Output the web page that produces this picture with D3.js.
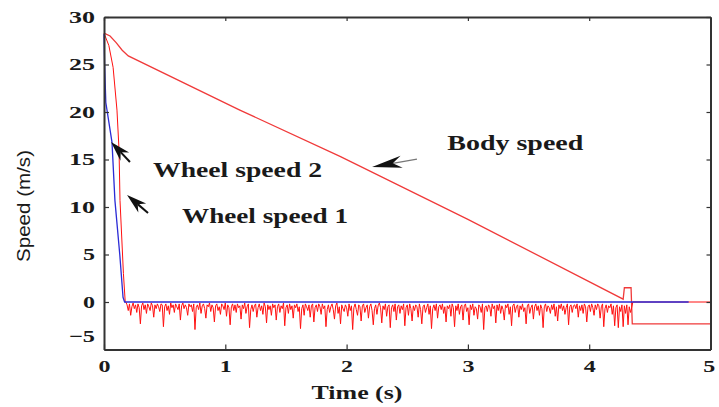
<!DOCTYPE html>
<html><head><meta charset="utf-8">
<script src="https://cdn.jsdelivr.net/npm/d3@7"></script>
<style>
html,body{margin:0;padding:0;background:#fff;}
svg{display:block;}
</style></head>
<body>
<svg id="c" width="719" height="407"></svg>
<script>
// ---- data ----
const xTicks = [0, 1, 2, 3, 4, 5];
const yTicks = [-5, 0, 5, 10, 15, 20, 25, 30];
const bodySpeed = [[0,28.3],[0.05,28.0],[0.1,27.3],[0.15,26.5],[0.2,25.9],[1.12,20.2],[1.95,15.3],[3,8.7],[4.28,0.3],[4.29,1.5],[4.345,1.5],[4.355,-2.3],[5,-2.3]];
const wheel1 = [[0,28.2],[0.005,25],[0.015,21],[0.066,16.8],[0.09,10.7],[0.13,5],[0.157,0.5],[0.17,0],[4.82,0]];
const wheel2Brake = [[0,28.3],[0.04,27],[0.075,24.7],[0.107,20.2],[0.124,16],[0.132,10.7],[0.16,3],[0.175,0],[0.18,0]];
const wheel2NoiseStart = 0.18, wheel2NoiseStep = 0.01;
const wheel2Noise = [
0,-0.3,-0.9,-0.2,-1.4,-0.5,-0.1,-0.7,-0.3,-1.1,
-0.2,-0.6,-2.3,-0.4,-0.1,-0.8,-0.3,-1.2,-0.2,-0.5,
-0.9,-0.1,-0.4,-1.6,-0.3,-0.7,-0.2,-0.5,-1.0,-0.2,
-0.3,-2.6,-0.5,-0.2,-0.9,-0.4,-1.3,-0.1,-0.6,-0.3,
-1.1,-0.2,-0.5,-0.8,-0.2,-1.9,-0.4,-0.1,-0.7,-0.3,
-0.6,-1.4,-0.2,-0.5,-0.3,-1.0,-0.2,-2.9,-0.6,-0.3,
-0.8,-0.1,-1.2,-0.4,-0.2,-0.7,-1.7,-0.3,-0.5,-0.1,
-1.0,-0.3,-0.6,-2.1,-0.4,-0.2,-0.9,-0.5,-1.3,-0.2,
-0.4,-0.8,-0.1,-1.5,-0.3,-0.6,-2.4,-0.5,-0.2,-0.9,
-0.3,-1.1,-0.2,-0.6,-0.4,-1.8,-0.3,-0.7,-0.1,-1.2,
-0.5,-0.2,-2.7,-0.8,-0.3,-1.0,-0.4,-0.2,-1.6,-0.6,
-0.2,-0.9,-0.4,-1.3,-0.1,-0.5,-2.2,-0.3,-0.8,-0.4,
-1.4,-0.2,-0.6,-0.3,-1.9,-0.5,-0.2,-1.1,-0.4,-0.7,
-0.1,-2.5,-0.6,-0.3,-1.2,-0.2,-0.8,-0.4,-1.7,-0.3,
-0.6,-0.2,-1.0,-0.5,-2.8,-0.7,-0.3,-1.4,-0.2,-0.5,
-0.9,-0.3,-1.6,-0.4,-0.2,-2.1,-0.6,-0.3,-1.0,-0.2,
-0.5,-1.3,-0.2,-0.7,-0.4,-2.6,-0.8,-0.3,-1.1,-0.5,
-0.2,-0.8,-1.8,-0.4,-0.1,-1.2,-0.5,-2.3,-0.3,-0.7,
-1.0,-0.3,-0.6,-1.5,-0.2,-0.9,-0.4,-2.9,-0.6,-0.2,
-0.8,-1.4,-0.3,-0.5,-2.0,-0.4,-0.2,-1.1,-0.6,-0.3,
-1.7,-0.5,-0.2,-0.9,-2.4,-0.7,-0.3,-1.3,-0.4,-0.1,
-0.6,-2.2,-0.4,-0.8,-0.2,-1.5,-0.5,-0.3,-2.7,-0.6,
-0.3,-1.0,-0.2,-1.9,-0.5,-0.3,-1.2,-0.4,-0.8,-0.2,
-2.5,-0.6,-0.3,-1.4,-0.2,-0.7,-2.0,-0.4,-0.9,-0.3,
-0.5,-1.6,-0.2,-0.8,-2.3,-0.5,-0.3,-1.1,-0.6,-0.2,
-1.3,-0.4,-2.8,-0.7,-0.3,-0.9,-0.2,-1.7,-0.5,-0.3,
-0.8,-0.2,-1.2,-0.5,-2.1,-0.4,-0.7,-0.3,-1.5,-0.2,
-0.6,-2.6,-0.4,-0.9,-0.2,-1.3,-0.5,-0.3,-1.9,-0.4,
-0.2,-1.0,-0.6,-2.4,-0.3,-0.8,-0.2,-1.4,-0.5,-0.7,
-1.8,-0.3,-0.5,-1.1,-0.2,-2.9,-0.6,-0.4,-1.0,-0.3,
-0.5,-1.5,-0.2,-0.7,-0.4,-2.2,-0.3,-0.9,-0.2,-1.2,
-0.4,-0.8,-1.9,-0.3,-0.6,-0.2,-1.3,-0.5,-2.5,-0.4,
-0.2,-1.1,-0.5,-0.3,-1.6,-0.4,-0.8,-0.2,-1.0,-0.6,
-2.3,-0.4,-0.2,-1.2,-0.6,-0.3,-1.8,-0.5,-0.2,-0.9,
-0.4,-1.4,-0.3,-0.7,-2.7,-0.5,-0.2,-1.0,-0.4,-0.6,
-1.2,-0.3,-0.8,-0.2,-1.5,-0.5,-2.0,-0.3,-0.7,-0.2,
-0.9,-0.4,-1.3,-0.6,-0.2,-2.4,-0.5,-0.3,-1.1,-0.4,
-0.3,-0.7,-0.2,-1.6,-0.4,-0.9,-0.3,-1.2,-0.2,-0.5,
-2.1,-0.5,-0.3,-1.0,-0.2,-0.6,-1.4,-0.3,-0.8,-0.2,
-0.4,-1.7,-0.5,-0.2,-2.6,-0.7,-0.3,-1.1,-0.4,-0.6,
-0.2,-1.3,-0.4,-2.5,-0.6,-0.3,-2.7,-0.5,-1.0,-0.3,
-2.6,-0.4,-1.2,-0.3,-2.4,-0.5,-1.1,-0.6,0
];
const wheel2Tail = [[4.36,0],[5,0]];
const labels = [
  {text:"Body speed", t:2.83, v:16.0, len:136},
  {text:"Wheel speed 2", t:0.404, v:13.16, len:169},
  {text:"Wheel speed 1", t:0.643, v:8.32, len:166}
];
const arrows = [
  {tip:[0.058,16.84], tail:[0.214,14.74], head:20, wr:0.3},
  {tip:[0.19,11.26], tail:[0.363,9.37], head:20, wr:0.3},
  {tip:[2.21,14.21], tail:[2.58,15.05], head:30, wr:0.2}
];

// ---- chart ----
const svg = d3.select("#c");
const x = d3.scaleLinear().domain([0,5]).range([104,710.5]);
const y = d3.scaleLinear().domain([-5,30]).range([349.5,17]);
const line = d3.line().x(d=>x(d[0])).y(d=>y(d[1]));

const noisePts = wheel2Noise.map((v,i)=>[wheel2NoiseStart + i*wheel2NoiseStep, v]);
const wheel2 = wheel2Brake.concat(noisePts).concat(wheel2Tail);

svg.append("path").datum(bodySpeed).attr("d",line)
  .attr("fill","none").attr("stroke","#f03a3a").attr("stroke-width",1.3);
svg.append("path").datum(wheel2).attr("d",line)
  .attr("fill","none").attr("stroke","#ff1010").attr("stroke-width",1);
svg.append("path").datum(wheel1).attr("d",line)
  .attr("fill","none").attr("stroke","#2b2bd6").attr("stroke-width",1.3);

// axes
const serif = "'Liberation Serif','Times New Roman',serif";
const fmt = d3.format("d");
const gLeft = svg.append("g").attr("transform",`translate(${x(0)},0)`)
  .call(d3.axisLeft(y).tickValues(yTicks).tickFormat(fmt).tickSizeInner(-5).tickSizeOuter(0).tickPadding(9));
const gBottom = svg.append("g").attr("transform",`translate(0,${y(-5)})`)
  .call(d3.axisBottom(x).tickValues(xTicks).tickFormat(fmt).tickSizeInner(-5).tickSizeOuter(0).tickPadding(10));
const gTop = svg.append("g").attr("transform",`translate(0,${y(30)})`)
  .call(d3.axisTop(x).tickValues(xTicks).tickSizeInner(-4).tickSizeOuter(0).tickFormat(""));
const gRight = svg.append("g").attr("transform",`translate(${x(5)},0)`)
  .call(d3.axisRight(y).tickValues(yTicks).tickSizeInner(-4).tickSizeOuter(0).tickFormat(""));
[gLeft,gBottom,gTop,gRight].forEach(g=>{
  g.select(".domain").attr("stroke","#333").attr("stroke-width",2);
  g.selectAll(".tick line").attr("stroke","#333").attr("stroke-width",1.2);
});
[gLeft,gBottom].forEach(g=>{
  g.selectAll(".tick text").attr("font-family",serif).attr("font-size",17)
    .attr("fill","#1a1a1a").attr("font-weight","bold")
    .attr("lengthAdjust","spacingAndGlyphs")
    .attr("textLength",function(d){const s=fmt(d); return s.length===1?12:(s[0]==="-"?21:26);});
});
gLeft.selectAll(".tick text").filter(d=>d===-5).attr("dy","-0.5em");
gBottom.selectAll(".tick text").filter(d=>d===5).attr("dx","-0.1em");

// axis titles
svg.append("text").attr("x",357).attr("y",399).attr("text-anchor","middle")
  .attr("font-family",serif).attr("font-size",18).attr("font-weight","bold").attr("fill","#1a1a1a")
  .attr("textLength",91).attr("lengthAdjust","spacingAndGlyphs").text("Time (s)");
svg.append("text").attr("transform","translate(30,206) rotate(-90)").attr("text-anchor","middle")
  .attr("font-family","'Liberation Sans',Arial,sans-serif").attr("font-size",18).attr("fill","#1a1a1a")
  .attr("textLength",112).attr("lengthAdjust","spacingAndGlyphs").text("Speed (m/s)");

// annotations
labels.forEach(l=>{
  svg.append("text").attr("x",x(l.t)).attr("y",y(l.v))
    .attr("font-family",serif).attr("font-size",21).attr("font-weight","bold").attr("fill","#1a1a1a")
    .attr("textLength",l.len).attr("lengthAdjust","spacingAndGlyphs").text(l.text);
});
arrows.forEach(a=>{
  const tx=x(a.tip[0]), ty=y(a.tip[1]), sx=x(a.tail[0]), sy=y(a.tail[1]);
  const dx=sx-tx, dy=sy-ty, L=Math.hypot(dx,dy), ux=dx/L, uy=dy/L, px=-uy, py=ux;
  const h=a.head, w=a.head*a.wr;
  svg.append("line").attr("x1",tx+ux*h*0.7).attr("y1",ty+uy*h*0.7).attr("x2",sx).attr("y2",sy)
    .attr("stroke", a.head>20?"#777":"#111").attr("stroke-width",a.head>20?1.3:2);
  const b1=[tx+ux*h+px*w, ty+uy*h+py*w], b2=[tx+ux*h-px*w, ty+uy*h-py*w], n=[tx+ux*h*0.7, ty+uy*h*0.7];
  svg.append("path").attr("d",`M${tx},${ty}L${b1[0]},${b1[1]}L${n[0]},${n[1]}L${b2[0]},${b2[1]}Z`)
    .attr("fill","#111");
});
</script>
</body></html>
